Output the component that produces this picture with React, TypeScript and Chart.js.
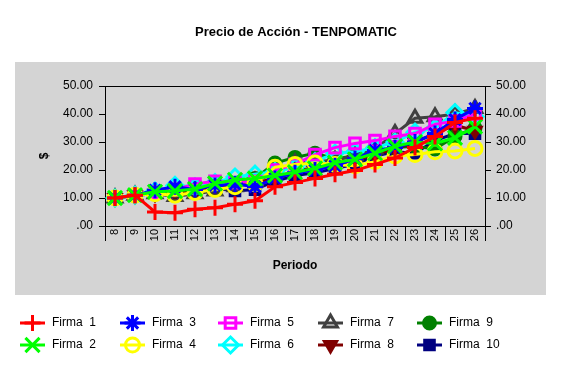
import React, { useEffect, useRef } from 'react';
import { Chart, registerables } from 'chart.js';

Chart.register(...registerables);

const periods = ['8', '9', '10', '11', '12', '13', '14', '15', '16', '17', '18', '19', '20', '21', '22', '23', '24', '25', '26'];

const firma1 = [10, 11, 5, 4.7, 6, 6.5, 7.8, 9, 14, 15.5, 17, 18.5, 19.8, 22, 24.3, 28, 32, 37, 38.5];
const firma2 = [10, 11, 12.2, 12.5, 13.2, 15.2, 16.5, 17, 18, 19.2, 20.6, 22.6, 23.8, 26, 28.5, 30, 29.5, 31.5, 35.5];
const firma3 = [10, 11, 12.8, 14, 13, 14.5, 15, 14, 17, 19, 20, 21.5, 24, 27, 28, 30, 33, 38, 42];
const firma4 = [10, 11, 11.5, 11, 12, 13, 14, 15, 21, 22, 22.5, 22, 21.5, 23, 25, 25.5, 26.5, 26.8, 27.7];
const firma5 = [10, 11, 12, 13, 15, 16, 15.5, 16, 20, 22, 25.5, 28, 29.5, 30.5, 32, 33, 36.3, 37.5, 40];
const firma6 = [10, 11, 12.5, 14.5, 14, 15.5, 17.5, 18.5, 19.5, 21, 23, 26, 26.5, 28, 30, 33.5, 35, 40.5, 39];
const firma7 = [10, 11, 11.5, 10.5, 11.5, 12.5, 14, 16, 19, 22.5, 23, 23.5, 25, 27.5, 33, 38.5, 39, 40, 42];
const firma8 = [10, 11, 11.5, 12, 12.5, 14, 15, 15.5, 17, 19.5, 21, 22, 23.5, 25.5, 27.5, 30, 33, 36, 34];
const firma9 = [10, 11, 12, 12.5, 13, 14, 15, 17, 22.5, 24.5, 26, 24, 25, 26, 28, 28.5, 27.5, 32, 35];
const firma10 = [10, 11, 11.5, 12, 14, 13.5, 12.5, 13, 16, 18, 19, 20.5, 22, 25, 26.5, 26, 30.5, 33, 33];

const seriesNames = ['Firma  1', 'Firma  2', 'Firma  3', 'Firma  4', 'Firma  5', 'Firma  6', 'Firma  7', 'Firma  8', 'Firma  9', 'Firma  10'];
const seriesData = [firma1, firma2, firma3, firma4, firma5, firma6, firma7, firma8, firma9, firma10];
const yTicks = [0, 10, 20, 30, 40, 50];

const FONT = 'Arial, "Liberation Sans", sans-serif';
const GRAY = '#d4d4d4';

type Sty = { color: string; shape: string; r: number; filled: boolean; rot: number; bw: number };
const styles: Sty[] = [
  { color: '#ff0000', shape: 'cross', r: 8, filled: false, rot: 0, bw: 3 },
  { color: '#00ff00', shape: 'crossRot', r: 10, filled: false, rot: 0, bw: 3 },
  { color: '#0000ff', shape: 'star', r: 8, filled: false, rot: 0, bw: 3 },
  { color: '#ffff00', shape: 'circle', r: 7, filled: false, rot: 0, bw: 3 },
  { color: '#ff00ff', shape: 'rect', r: 7.5, filled: false, rot: 0, bw: 3 },
  { color: '#00ffff', shape: 'rectRot', r: 8, filled: false, rot: 0, bw: 3 },
  { color: '#404040', shape: 'triangle', r: 8, filled: false, rot: 0, bw: 3 },
  { color: '#800000', shape: 'triangle', r: 8, filled: true, rot: 180, bw: 2 },
  { color: '#008000', shape: 'circle', r: 6.5, filled: true, rot: 0, bw: 2 },
  { color: '#000080', shape: 'rect', r: 7.5, filled: true, rot: 0, bw: 2 },
];

function drawMarker(ctx: CanvasRenderingContext2D, s: Sty, x: number, y: number) {
  const r = s.r;
  ctx.save();
  ctx.strokeStyle = s.color;
  ctx.fillStyle = s.color;
  ctx.lineWidth = s.bw;
  ctx.beginPath();
  if (s.shape === 'cross') {
    ctx.moveTo(x - r, y); ctx.lineTo(x + r, y);
    ctx.moveTo(x, y - r); ctx.lineTo(x, y + r);
    ctx.stroke();
  } else if (s.shape === 'crossRot') {
    const d = r * Math.SQRT1_2;
    ctx.moveTo(x - d, y - d); ctx.lineTo(x + d, y + d);
    ctx.moveTo(x - d, y + d); ctx.lineTo(x + d, y - d);
    ctx.stroke();
  } else if (s.shape === 'star') {
    const d = r * Math.SQRT1_2;
    ctx.moveTo(x - r, y); ctx.lineTo(x + r, y);
    ctx.moveTo(x, y - r); ctx.lineTo(x, y + r);
    ctx.moveTo(x - d, y - d); ctx.lineTo(x + d, y + d);
    ctx.moveTo(x - d, y + d); ctx.lineTo(x + d, y - d);
    ctx.stroke();
  } else if (s.shape === 'circle') {
    ctx.arc(x, y, r, 0, Math.PI * 2);
    if (s.filled) ctx.fill();
    ctx.stroke();
  } else if (s.shape === 'rect') {
    const h = r * Math.SQRT1_2;
    ctx.rect(x - h, y - h, 2 * h, 2 * h);
    if (s.filled) ctx.fill();
    ctx.stroke();
  } else if (s.shape === 'rectRot') {
    ctx.moveTo(x, y - r); ctx.lineTo(x + r, y); ctx.lineTo(x, y + r); ctx.lineTo(x - r, y); ctx.closePath();
    if (s.filled) ctx.fill();
    ctx.stroke();
  } else if (s.shape === 'triangle') {
    const sign = s.rot === 180 ? -1 : 1;
    const a = -Math.PI / 2;
    for (let k = 0; k < 3; k++) {
      const ang = a + (k * 2 * Math.PI) / 3;
      const px = x + Math.cos(ang) * r;
      const py = y + sign * Math.sin(ang) * r;
      if (k === 0) ctx.moveTo(px, py); else ctx.lineTo(px, py);
    }
    ctx.closePath();
    if (s.filled) ctx.fill();
    ctx.stroke();
  }
  ctx.restore();
}

const legendCols = [20, 120, 218, 318, 417];
const legendRows = [323, 345];

const bgPlugin = {
  id: 'bgPlugin',
  beforeDraw(chart: any) {
    const ctx = chart.ctx as CanvasRenderingContext2D;
    ctx.save();
    ctx.fillStyle = '#ffffff';
    ctx.fillRect(0, 0, chart.width, chart.height);
    ctx.fillStyle = GRAY;
    ctx.fillRect(15, 62, 531, 233);
    ctx.restore();
  },
  beforeDatasetsDraw(chart: any) {
    const ctx = chart.ctx as CanvasRenderingContext2D;
    const a = chart.chartArea;
    ctx.save();
    ctx.strokeStyle = '#000';
    ctx.lineWidth = 1;
    ctx.beginPath();
    ctx.moveTo(a.left, Math.round(a.top) + 0.5);
    ctx.lineTo(a.right, Math.round(a.top) + 0.5);
    ctx.stroke();
    ctx.restore();
  },
  afterDraw(chart: any) {
    const ctx = chart.ctx as CanvasRenderingContext2D;
    ctx.save();
    seriesNames.forEach((name, i) => {
      const s = styles[i];
      const x0 = legendCols[Math.floor(i / 2)];
      const y0 = legendRows[i % 2];
      ctx.strokeStyle = s.color;
      ctx.lineWidth = 3;
      ctx.beginPath();
      ctx.moveTo(x0, y0);
      ctx.lineTo(x0 + 25, y0);
      ctx.stroke();
      drawMarker(ctx, s, x0 + 12.5, y0);
      ctx.fillStyle = '#000';
      ctx.font = '12px ' + FONT;
      ctx.textBaseline = 'middle';
      ctx.textAlign = 'left';
      ctx.fillText(name, x0 + 32, y0);
    });
    ctx.restore();
  },
};

export default function App() {
  const ref = useRef<HTMLCanvasElement | null>(null);
  useEffect(() => {
    if (!ref.current) return;
    const datasets = seriesNames.map((name, i) => {
      const s = styles[i];
      return {
        label: name,
        data: seriesData[i],
        borderColor: s.color,
        backgroundColor: s.color,
        borderWidth: 3,
        tension: 0,
        pointStyle: s.shape,
        pointRadius: s.r,
        pointBorderWidth: s.bw,
        pointBorderColor: s.color,
        pointBackgroundColor: s.filled ? s.color : 'rgba(0,0,0,0)',
        pointRotation: s.rot,
        yAxisID: 'y',
      };
    });
    const tickFmt = (v: any) => (Number(v) === 0 ? '.00' : Number(v).toFixed(2));
    const chart = new Chart(ref.current, {
      type: 'line',
      data: { labels: periods, datasets: datasets as any },
      plugins: [bgPlugin],
      options: {
        responsive: false,
        animation: false,
        devicePixelRatio: 1,
        layout: { padding: { left: 30, right: 0, top: 0, bottom: 86 } },
        plugins: {
          legend: { display: false },
          tooltip: { enabled: false },
          title: {
            display: true,
            text: 'Precio de Acción - TENPOMATIC',
            color: '#000',
            font: { family: FONT, size: 13, weight: 'bold', lineHeight: 1.2 },
            padding: { top: 25, bottom: 45.4 },
          },
        },
        scales: {
          x: {
            type: 'category',
            position: 'bottom',
            offset: true,
            grid: { display: true, drawOnChartArea: false, drawTicks: true, tickLength: 15, color: '#000', offset: true, lineWidth: 1 },
            border: { display: true, color: '#000', width: 1 },
            ticks: { minRotation: 90, maxRotation: 90, autoSkip: false, padding: -12, color: '#000', font: { family: FONT, size: 11 } },
            title: { display: true, text: 'Periodo', color: '#000', font: { family: FONT, size: 12, weight: 'bold', lineHeight: 1.2 }, padding: { top: 0, bottom: 13 } },
            afterFit: (s: any) => { s.height = 60; },
          },
          y: {
            type: 'linear',
            position: 'left',
            min: 0,
            max: 50,
            afterBuildTicks: (s: any) => { s.ticks = yTicks.map((v) => ({ value: v })); },
            grid: { drawOnChartArea: false, drawTicks: true, tickLength: 6, color: '#000' },
            border: { display: true, color: '#000', width: 1 },
            ticks: { padding: 6, color: '#000', font: { family: FONT, size: 12 }, callback: tickFmt },
            title: { display: true, text: '$', color: '#000', font: { family: FONT, size: 12, weight: 'bold', lineHeight: 1.2 }, padding: { top: 7, bottom: 0 } },
            afterFit: (s: any) => { s.width = 75; },
          },
          y2: {
            type: 'linear',
            position: 'right',
            min: 0,
            max: 50,
            afterBuildTicks: (s: any) => { s.ticks = yTicks.map((v) => ({ value: v })); },
            grid: { drawOnChartArea: false, drawTicks: true, tickLength: 6, color: '#000' },
            border: { display: true, color: '#000', width: 1 },
            ticks: { padding: 5, color: '#000', font: { family: FONT, size: 12 }, callback: tickFmt },
            afterFit: (s: any) => { s.width = 77; },
          },
        },
      } as any,
    });
    return () => chart.destroy();
  }, []);
  return (
    <div style={{ position: 'fixed', left: 0, top: 0, width: 562, height: 372 }}>
      <canvas ref={ref} width={562} height={372} style={{ display: 'block', width: 562, height: 372 }} />
    </div>
  );
}
